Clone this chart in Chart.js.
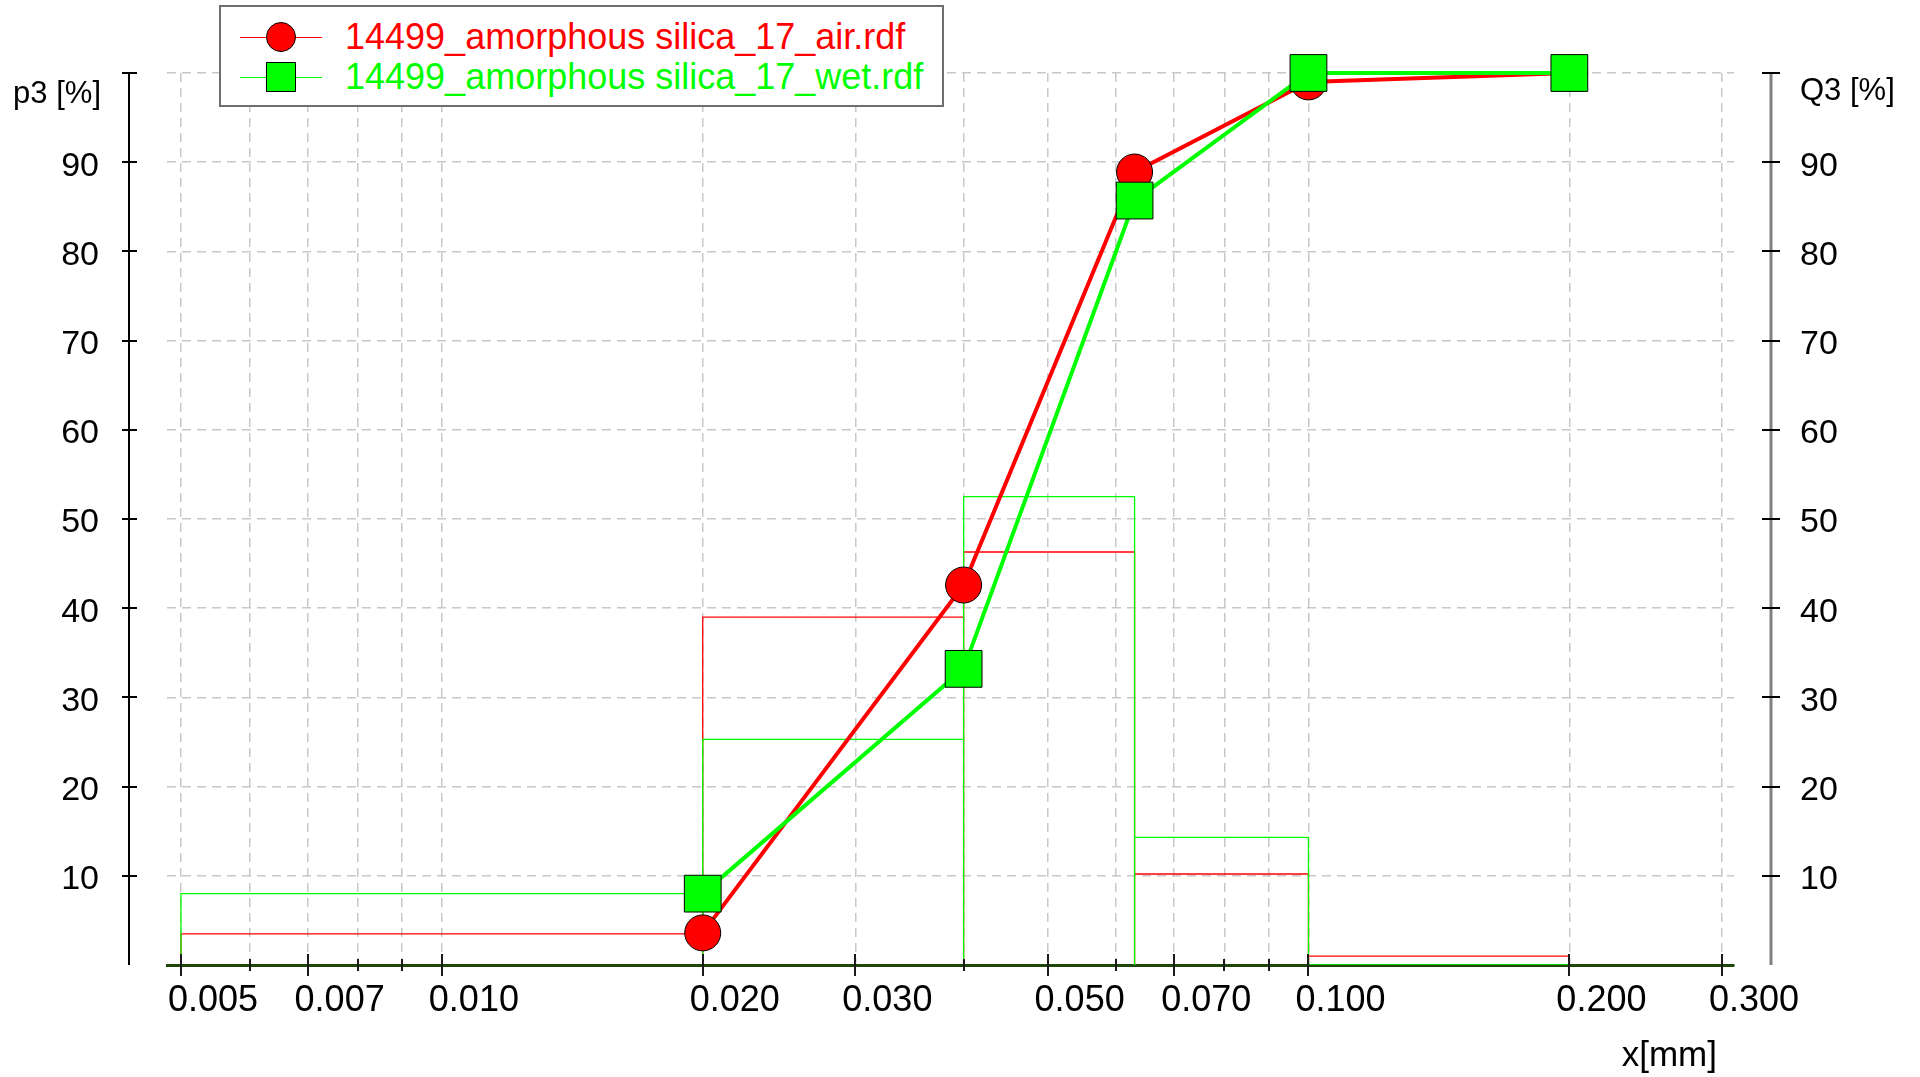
<!DOCTYPE html>
<html>
<head>
<meta charset="utf-8">
<title>14499 amorphous silica 17</title>
<script src="https://cdn.jsdelivr.net/npm/chart.js@4.4.1/dist/chart.umd.min.js"></script>
<style>
    html, body { margin: 0; padding: 0; background: #fff; }
    #wrap { position: relative; width: 1920px; height: 1077px; }
    #chart { display: block; }
    #legend {
        position: absolute; left: 219px; top: 5px; width: 721px; height: 98px;
        border: 2px solid #6e6e6e; background: #fff;
        font-family: "Liberation Sans", Arial, sans-serif; font-size: 36px;
    }
    .row { position: absolute; left: 0; height: 40px; width: 100%; }
    .row .sample { position: absolute; left: 19px; width: 82px; top: 20px; height: 1px; }
    .row .mark { position: absolute; left: 45px; top: 5px; width: 30px; height: 30px; border: 1px solid #000; box-sizing: border-box; }
    .row .txt { position: absolute; left: 124px; top: 0; line-height: 40px; white-space: nowrap; }
</style>
</head>
<body>
<div id="wrap">
    <canvas id="chart" width="1920" height="1077"></canvas>
    <div id="legend"></div>
</div>
<script>
// --- data ---
const seriesNames = ["14499_amorphous silica_17_air.rdf", "14499_amorphous silica_17_wet.rdf"];
const seriesColors = ["#ff0000", "#00ff00"];

// class edges [mm] and density p3 [%] per class
const classEdges = [0.005, 0.020, 0.040, 0.063, 0.100, 0.200];
const airDensity = [3.5, 39.0, 46.3, 10.2, 1.0];
const wetDensity = [8.0, 25.3, 52.5, 14.3, 0.0];

// cumulative Q3 [%] at upper class edges
const sieveSizes = [0.020, 0.040, 0.063, 0.100, 0.200];
const airCumulative = [3.6, 42.6, 88.9, 99.0, 100];
const wetCumulative = [8.0, 33.2, 85.7, 100, 100];

// axes
const xGridValues = [0.005, 0.006, 0.007, 0.008, 0.009, 0.010, 0.020, 0.030, 0.040, 0.050, 0.060, 0.070, 0.080, 0.090, 0.100, 0.200, 0.300];
const xTickLabels = ["0.005", "0.007", "0.010", "0.020", "0.030", "0.050", "0.070", "0.100", "0.200", "0.300"];
const yTickValues = [10, 20, 30, 40, 50, 60, 70, 80, 90, 100];

const FONT = '"Liberation Sans", Arial, sans-serif';

function isLabeled(v) {
    return xTickLabels.some(s => Math.abs(parseFloat(s) - v) < 1e-9);
}

// outline of the density classes as a closed step path
function histogramPoints(edges, heights) {
    const pts = [];
    heights.forEach((h, i) => {
        pts.push({ x: edges[i], y: 0 });
        pts.push({ x: edges[i], y: h });
        pts.push({ x: edges[i + 1], y: h });
        pts.push({ x: edges[i + 1], y: 0 });
    });
    return pts;
}

function cumulativePoints(sizes, values) {
    return sizes.map((s, i) => ({ x: s, y: values[i] }));
}

// the big tick paddings would otherwise push the plot area inwards
function noScalePadding(scale) {
    scale.paddingTop = 0;
    scale.paddingBottom = 0;
    scale.paddingLeft = 0;
    scale.paddingRight = 0;
}

// axis lines, ticks and axis captions (p3/Q3 axes sit off the plot area)
const axisDecor = {
    id: "axisDecor",
    afterDraw(chart) {
        const { ctx, chartArea, scales } = chart;
        const sx = scales.x, sy = scales.y;
        const line = (x1, y1, x2, y2) => { ctx.beginPath(); ctx.moveTo(x1, y1); ctx.lineTo(x2, y2); ctx.stroke(); };
        ctx.save();

        // x ticks crossing the axis
        ctx.strokeStyle = "#1a1a1a";
        ctx.lineWidth = 2;
        xGridValues.forEach(v => {
            const px = Math.round(sx.getPixelForValue(v));
            const len = isLabeled(v) ? 11 : 6;
            line(px, chartArea.bottom - len, px, chartArea.bottom + len);
        });

        // left p3 axis
        const lx = chartArea.left - 38;
        ctx.strokeStyle = "#000";
        ctx.lineWidth = 2;
        line(lx, sy.getPixelForValue(100), lx, sy.getPixelForValue(0));
        yTickValues.forEach(v => {
            const py = Math.round(sy.getPixelForValue(v));
            line(lx - 7, py, lx + 8, py);
        });

        // right Q3 axis
        const rx = chartArea.right + 37;
        ctx.strokeStyle = "#808080";
        ctx.lineWidth = 3;
        line(rx, sy.getPixelForValue(100), rx, sy.getPixelForValue(0));
        ctx.lineWidth = 2;
        ctx.strokeStyle = "#000";
        yTickValues.forEach(v => {
            const py = Math.round(sy.getPixelForValue(v));
            line(rx - 9, py, rx + 9, py);
        });

        // captions
        ctx.fillStyle = "#000";
        ctx.textBaseline = "middle";
        ctx.font = "31px " + FONT;
        ctx.textAlign = "right";
        ctx.fillText("p3 [%]", lx - 28, sy.getPixelForValue(100) + 21);
        ctx.textAlign = "left";
        ctx.fillText("Q3 [%]", rx + 29, sy.getPixelForValue(100) + 18);
        ctx.font = "35px " + FONT;
        ctx.textAlign = "right";
        ctx.fillText("x[mm]", chartArea.right - 17, chartArea.bottom + 91);
        ctx.restore();
    }
};

const gridDash = [9, 6];

new Chart(document.getElementById("chart"), {
    type: "line",
    data: {
        datasets: [
            {
                label: seriesNames[1] + " Q3",
                data: cumulativePoints(sieveSizes, wetCumulative),
                borderColor: seriesColors[1],
                backgroundColor: seriesColors[1],
                borderWidth: 4,
                pointStyle: "rect",
                pointRadius: 26,
                pointBorderColor: "#000",
                pointBorderWidth: 1,
                pointBackgroundColor: seriesColors[1],
                clip: false,
                order: 0
            },
            {
                label: seriesNames[0] + " Q3",
                data: cumulativePoints(sieveSizes, airCumulative),
                borderColor: seriesColors[0],
                backgroundColor: seriesColors[0],
                borderWidth: 4,
                pointStyle: "circle",
                pointRadius: 18,
                pointBorderColor: "#000",
                pointBorderWidth: 1,
                pointBackgroundColor: seriesColors[0],
                clip: false,
                order: 1
            },
            {
                label: seriesNames[1] + " p3",
                data: histogramPoints(classEdges, wetDensity),
                borderColor: seriesColors[1],
                borderWidth: 1.3,
                pointRadius: 0,
                order: 2
            },
            {
                label: seriesNames[0] + " p3",
                data: histogramPoints(classEdges, airDensity),
                borderColor: seriesColors[0],
                borderWidth: 1.3,
                pointRadius: 0,
                order: 3
            }
        ]
    },
    options: {
        responsive: false,
        animation: false,
        events: [],
        layout: { padding: { top: 73, left: 0, right: 0, bottom: 0 } },
        plugins: { legend: { display: false }, tooltip: { enabled: false } },
        scales: {
            x: {
                type: "logarithmic",
                min: 0.004818,
                max: 0.30975,
                afterBuildTicks: scale => { scale.ticks = xGridValues.map(v => ({ value: v })); },
                afterFit: scale => { scale.height = 112; noScalePadding(scale); },
                grid: { color: "#c8c8c8", lineWidth: 1.5, drawTicks: false },
                border: { display: true, color: "#1f470a", width: 3, dash: gridDash },
                ticks: {
                    autoSkip: false,
                    maxRotation: 0,
                    align: "start",
                    labelOffset: -13,
                    padding: 14,
                    color: "#000",
                    font: { family: FONT, size: 36 },
                    callback: v => {
                        const s = xTickLabels.find(t => Math.abs(parseFloat(t) - v) < 1e-9);
                        return s || "";
                    }
                }
            },
            y: {
                position: "left",
                min: 0,
                max: 100,
                afterBuildTicks: scale => { scale.ticks = [0].concat(yTickValues).map(v => ({ value: v })); },
                afterFit: scale => { scale.width = 167; noScalePadding(scale); },
                grid: {
                    color: ctx => ctx.tick && ctx.tick.value === 0 ? "rgba(0,0,0,0)" : "#c8c8c8",
                    lineWidth: 1.5,
                    drawTicks: false
                },
                border: { display: false, dash: gridDash },
                ticks: {
                    padding: 68,
                    labelOffset: 4,
                    color: "#000",
                    font: { family: FONT, size: 34 },
                    callback: v => (v === 0 || v === 100) ? "" : String(v)
                }
            },
            y2: {
                position: "right",
                min: 0,
                max: 100,
                afterBuildTicks: scale => { scale.ticks = [0].concat(yTickValues).map(v => ({ value: v })); },
                afterFit: scale => { scale.width = 186; noScalePadding(scale); },
                grid: { display: false, drawTicks: false },
                border: { display: false },
                ticks: {
                    padding: 66,
                    labelOffset: 4,
                    color: "#000",
                    font: { family: FONT, size: 34 },
                    callback: v => (v === 0 || v === 100) ? "" : String(v)
                }
            }
        }
    },
    plugins: [axisDecor]
});

// legend box
const legend = document.getElementById("legend");
[0, 1].forEach(i => {
    const row = document.createElement("div");
    row.className = "row";
    row.style.top = (i === 0 ? 10 : 50) + "px";
    row.innerHTML = `
        <div class="sample" style="background:${seriesColors[i]}"></div>
        <div class="mark" style="background:${seriesColors[i]};border-radius:${i === 0 ? "50%" : "0"}"></div>
        <div class="txt" style="color:${seriesColors[i]}">${seriesNames[i]}</div>`;
    legend.appendChild(row);
});
</script>
</body>
</html>
